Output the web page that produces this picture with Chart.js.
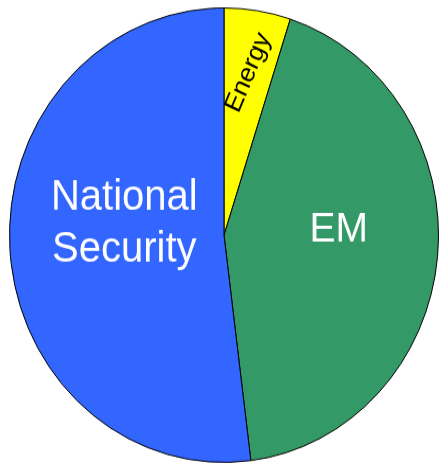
<!DOCTYPE html>
<html>
<head>
<meta charset="utf-8">
<script src="https://cdn.jsdelivr.net/npm/chart.js@4/dist/chart.umd.min.js"></script>
<style>
  html, body { margin: 0; padding: 0; background: #fff; overflow: hidden; }
  #pieChart { display: block; }
</style>
</head>
<body>
<canvas id="pieChart" width="439" height="438" style="width:439px;height:464px"></canvas>
<script>
var categories = ["Energy", "EM", "National Security"];
var values = [5, 43, 52];
var colors = ["#ffff00", "#339966", "#3366ff"];
var labelLines = [["Energy"], ["EM"], ["National", "Security"]];

// label look, per slice: radius fraction, angle shift (deg), font size, colour, rotation
var labelStyle = [
    { r: 0.725, shift: 0, size: 25, color: "#000", rot: -66 },
    { r: 0.535, shift: -7.9, size: 39, color: "#fff", rot: 0 },
    { r: 0.467, shift: 9.5, size: 40, color: "#fff", rot: 0 }
];

var sliceLabels = {
    id: 'sliceLabels',
    afterDatasetsDraw: function(chart) {
        var ctx = chart.ctx;
        var meta = chart.getDatasetMeta(0);
        meta.data.forEach(function(arc, i) {
            var p = arc.getProps(['x', 'y', 'startAngle', 'endAngle', 'outerRadius'], true);
            var st = labelStyle[i];
            var mid = (p.startAngle + p.endAngle) / 2 + st.shift * Math.PI / 180;
            var x = p.x + Math.cos(mid) * p.outerRadius * st.r;
            var y = p.y + Math.sin(mid) * p.outerRadius * st.r;
            var lines = labelLines[i];
            var lh = st.size * 1.23;
            ctx.save();
            ctx.translate(x, y);
            ctx.rotate(st.rot * Math.PI / 180);
            ctx.font = st.size + 'px "Liberation Sans", Arial, sans-serif';
            ctx.fillStyle = st.color;
            ctx.textAlign = 'center';
            ctx.textBaseline = 'middle';
            lines.forEach(function(t, j) {
                ctx.fillText(t, 0, (j - (lines.length - 1) / 2) * lh);
            });
            ctx.restore();
        });
    }
};

var ctxP = document.getElementById("pieChart").getContext('2d');
var pieData = {
    type: 'pie',
    data: {
        labels: categories,
        datasets: [{
            data: values,
            backgroundColor: colors,
            borderColor: "#000",
            borderWidth: 1
        }]
    },
    options: {
        responsive: false,
        devicePixelRatio: 1,
        animation: false,
        layout: { padding: { left: 9, right: 0, top: 7, bottom: 1 } },
        plugins: {
            legend: { display: false },
            tooltip: { enabled: false }
        }
    },
    plugins: [sliceLabels]
};

var myPieChart = new Chart(ctxP, pieData);
</script>
</body>
</html>
